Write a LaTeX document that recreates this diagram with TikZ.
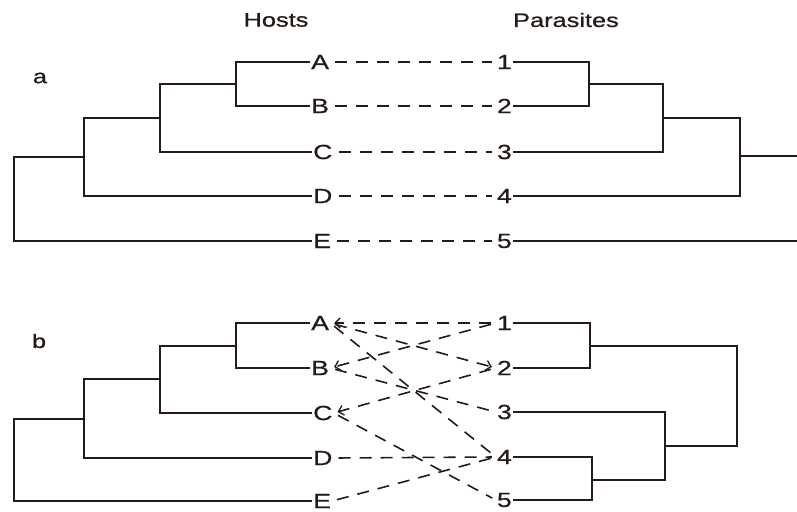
\documentclass[tikz,border=0pt]{standalone}
\usepackage{fontspec}
\setmainfont[FakeStretch=1.3,FakeBold=0.7]{Liberation Sans}
\usetikzlibrary{arrows.meta}

\definecolor{ink}{RGB}{38,26,22}

\tikzset{
  tree/.style={ink,line width=1.5pt},
  link/.style={ink,line width=1.6pt,dash pattern=on 12pt off 9pt,shorten <=5pt,shorten >=4pt},
  tip/.style={-{Straight Barb[length=5pt,width=10pt,line width=1.3pt]}},
  host/.style={ink,anchor=west,inner xsep=1pt,inner ysep=0pt,font=\fontsize{20.5}{20.5}\selectfont},
  para/.style={ink,anchor=east,inner xsep=1pt,inner ysep=0pt,font=\fontsize{20.5}{20.5}\selectfont},
  head/.style={ink,font=\fontsize{19.5}{19.5}\selectfont}
}

\begin{document}
\begin{tikzpicture}[x=1pt,y=-1pt]
\useasboundingbox (0,0) rectangle (797,511);

\node[head] (hosts) at (276,20) {Hosts};
\node[head] (paras) at (566,20) {Parasites};
\node[head] (la) at (40,78) {a};
\node[head] (lb) at (39,341) {b};

% part a
\node[host] (aA) at (310,62) {A};
\node[host] (aB) at (310,106) {B};
\node[host] (aC) at (312,152) {C};
\node[host] (aD) at (312,196) {D};
\node[host] (aE) at (312,241) {E};
\node[para] (a1) at (513,62) {1};
\node[para] (a2) at (513,106) {2};
\node[para] (a3) at (513,152) {3};
\node[para] (a4) at (513,196) {4};
\node[para] (a5) at (513,241) {5};

\draw[tree] (aA.west) -- (236,62) -- (236,106) -- (aB.west);
\draw[tree] (236,84) -- (160,84) -- (160,152) -- (aC.west);
\draw[tree] (160,118) -- (84,118) -- (84,196) -- (aD.west);
\draw[tree] (84,157) -- (14,157) -- (14,241) -- (aE.west);

\draw[tree] (a1.east) -- (589,62) -- (589,106) -- (a2.east);
\draw[tree] (589,84) -- (663,84) -- (663,152) -- (a3.east);
\draw[tree] (663,118) -- (740,118) -- (740,196) -- (a4.east);
\draw[tree] (740,156) -- (797,156);
\draw[tree] (a5.east) -- (797,241);

\draw[link] (aA.east) -- (a1.west);
\draw[link] (aB.east) -- (a2.west);
\draw[link] (aC.east) -- (a3.west);
\draw[link] (aD.east) -- (a4.west);
\draw[link] (aE.east) -- (a5.west);

% part b
\node[host] (bA) at (310,323) {A};
\node[host] (bB) at (310,368) {B};
\node[host] (bC) at (312,413) {C};
\node[host] (bD) at (312,458) {D};
\node[host] (bE) at (312,501) {E};
\node[para] (b1) at (513,323) {1};
\node[para] (b2) at (513,368) {2};
\node[para] (b3) at (513,412) {3};
\node[para] (b4) at (513,457) {4};
\node[para] (b5) at (513,500) {5};

\draw[tree] (bA.west) -- (236,323) -- (236,368) -- (bB.west);
\draw[tree] (236,346) -- (160,346) -- (160,413) -- (bC.west);
\draw[tree] (160,379) -- (84,379) -- (84,458) -- (bD.west);
\draw[tree] (84,419) -- (14,419) -- (14,501) -- (bE.west);

\draw[tree] (b1.east) -- (590,323) -- (590,368) -- (b2.east);
\draw[tree] (590,346) -- (737,346) -- (737,446) -- (665,446);
\draw[tree] (b3.east) -- (665,412) -- (665,480) -- (592,480);
\draw[tree] (b4.east) -- (592,457) -- (592,500) -- (b5.east);

\draw[link,tip] (b1.west) -- (bA.east);
\draw[link,tip] (b1.west) -- (bB.east);
\draw[link,tip] (bA.east) -- (b2.west);
\draw[link,tip] (b2.west) -- (bC.east);
\draw[link] (bA.east) -- (b4.west);
\draw[link] (bB.east) -- (b3.west);
\draw[link] (bC.east) -- (b5.west);
\draw[link] (bD.east) -- (b4.west);
\draw[link] (bE.east) -- (b4.west);

\end{tikzpicture}
\end{document}
